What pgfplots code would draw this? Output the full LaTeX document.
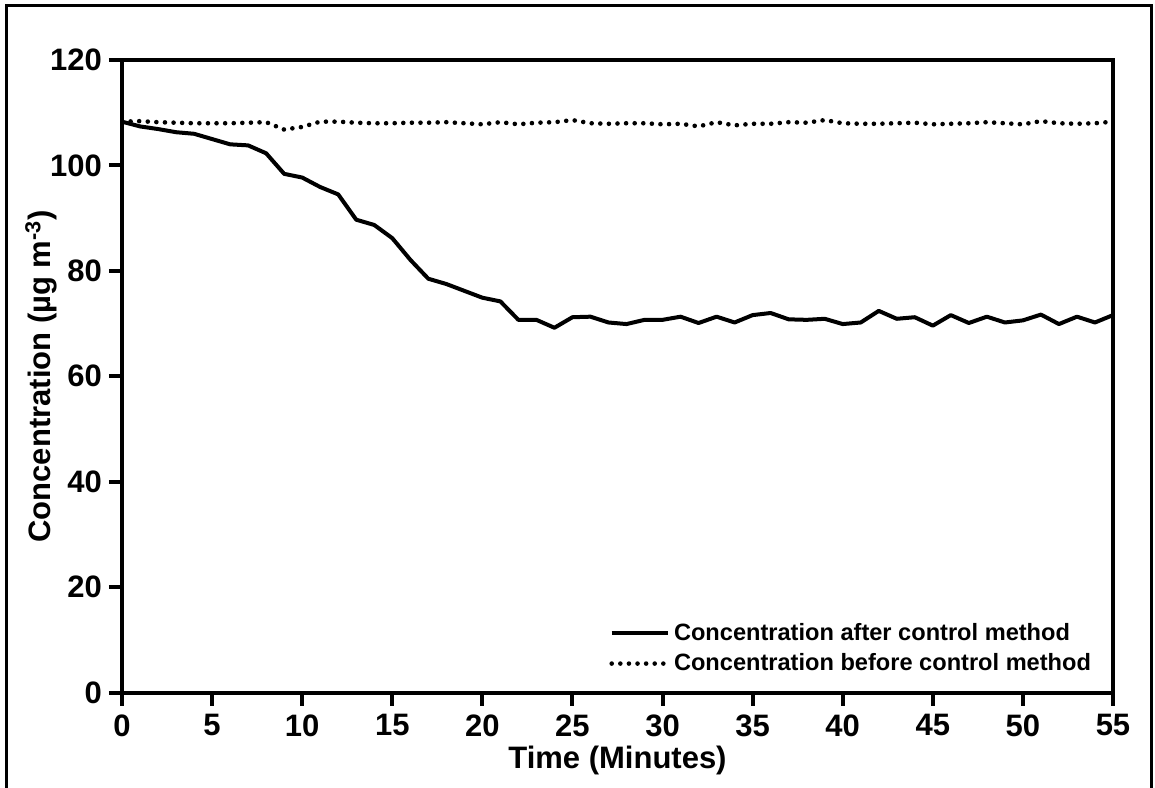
\documentclass[border=0pt]{standalone}
\usepackage{pgfplots}
\pgfplotsset{compat=1.18}
\usepackage{fontspec}
\setmainfont{Liberation Sans}
\begin{document}
\begin{tikzpicture}
\useasboundingbox (-61pt,-47.25pt) rectangle (516.5pt,346.25pt);
\draw[line width=1.5pt] (-57.5pt,-48pt) -- (-57.5pt,343.5pt) -- (514.5pt,343.5pt) -- (514.5pt,-48pt);
\begin{axis}[
  at={(0pt,0pt)}, anchor=south west,
  scale only axis,
  width=495.5pt, height=316.25pt,
  xmin=0, xmax=55, ymin=0, ymax=120,
  xtick={0,5,...,55}, ytick={0,20,...,120},
  axis line style={line width=2pt},
  tick style={line width=2pt, black},
  tick align=outside,
  major tick length=6.5pt,
  xtick pos=bottom, ytick pos=left,
  /pgf/number format/assume math mode=true,
  ticklabel style={font=\bfseries\fontsize{15.5}{18}\selectfont},
  xticklabel style={yshift=-1pt},
  yticklabel style={xshift=0pt},
  xlabel={Time (Minutes)},
  ylabel={Concentration (µg m\textsuperscript{-3})},
  label style={font=\bfseries\fontsize{15.5}{18}\selectfont},
  xlabel style={yshift=2pt},
  ylabel style={yshift=-10.5pt},
  legend style={draw=none, fill=none, at={(axis description cs:0.4854,0.1225)}, anchor=north west,
    font=\bfseries\fontsize{11.8}{14}\selectfont, row sep=1pt,
    /tikz/every even column/.append style={column sep=0pt}},
  legend cell align=left,
  legend image code/.code={\draw[#1] (0pt,0pt) -- (28pt,0pt);},
]
\addplot[black, line width=2pt, line join=round] coordinates {
(0,108.3)(1,107.4)(2,106.9)(3,106.3)(4,106.0)(5,105.0)(6,104.0)(7,103.8)(8,102.3)(9,98.4)
(10,97.7)(11,95.9)(12,94.5)(13,89.7)(14,88.7)(15,86.2)(16,82.1)(17,78.5)(18,77.5)(19,76.2)
(20,74.9)(21,74.2)(22,70.7)(23,70.7)(24,69.2)(25,71.2)(26,71.3)(27,70.2)(28,69.9)(29,70.7)
(30,70.7)(31,71.3)(32,70.1)(33,71.3)(34,70.2)(35,71.6)(36,72.0)(37,70.8)(38,70.7)(39,70.9)
(40,69.9)(41,70.2)(42,72.4)(43,70.9)(44,71.2)(45,69.6)(46,71.6)(47,70.1)(48,71.3)(49,70.2)
(50,70.6)(51,71.7)(52,69.9)(53,71.3)(54,70.2)(55,71.6)
};
\addlegendentry{Concentration after control method}
\addplot[black, line width=2.3pt, line cap=round, dash pattern=on 0pt off 4.3pt] coordinates {
(0,108.3)(1,108.4)(2,108.2)(3,108.1)(4,108.0)(5,108.0)(6,108.0)(7,108.1)(8,108.2)(9,106.8)
(10,107.3)(11,108.3)(12,108.3)(13,108.1)(14,108.0)(15,108.0)(16,108.1)(17,108.1)(18,108.2)(19,108.0)
(20,107.8)(21,108.2)(22,107.8)(23,108.1)(24,108.2)(25,108.6)(26,108.0)(27,107.9)(28,108.0)(29,108.0)
(30,107.8)(31,107.9)(32,107.4)(33,108.2)(34,107.6)(35,107.9)(36,107.9)(37,108.2)(38,108.1)(39,108.6)
(40,108.0)(41,107.9)(42,107.9)(43,108.0)(44,108.1)(45,107.8)(46,107.9)(47,108.0)(48,108.2)(49,108.0)
(50,107.8)(51,108.4)(52,108.0)(53,107.9)(54,108.0)(55,108.3)
};
\addlegendentry{Concentration before control method}
\end{axis}
\end{tikzpicture}
\end{document}
